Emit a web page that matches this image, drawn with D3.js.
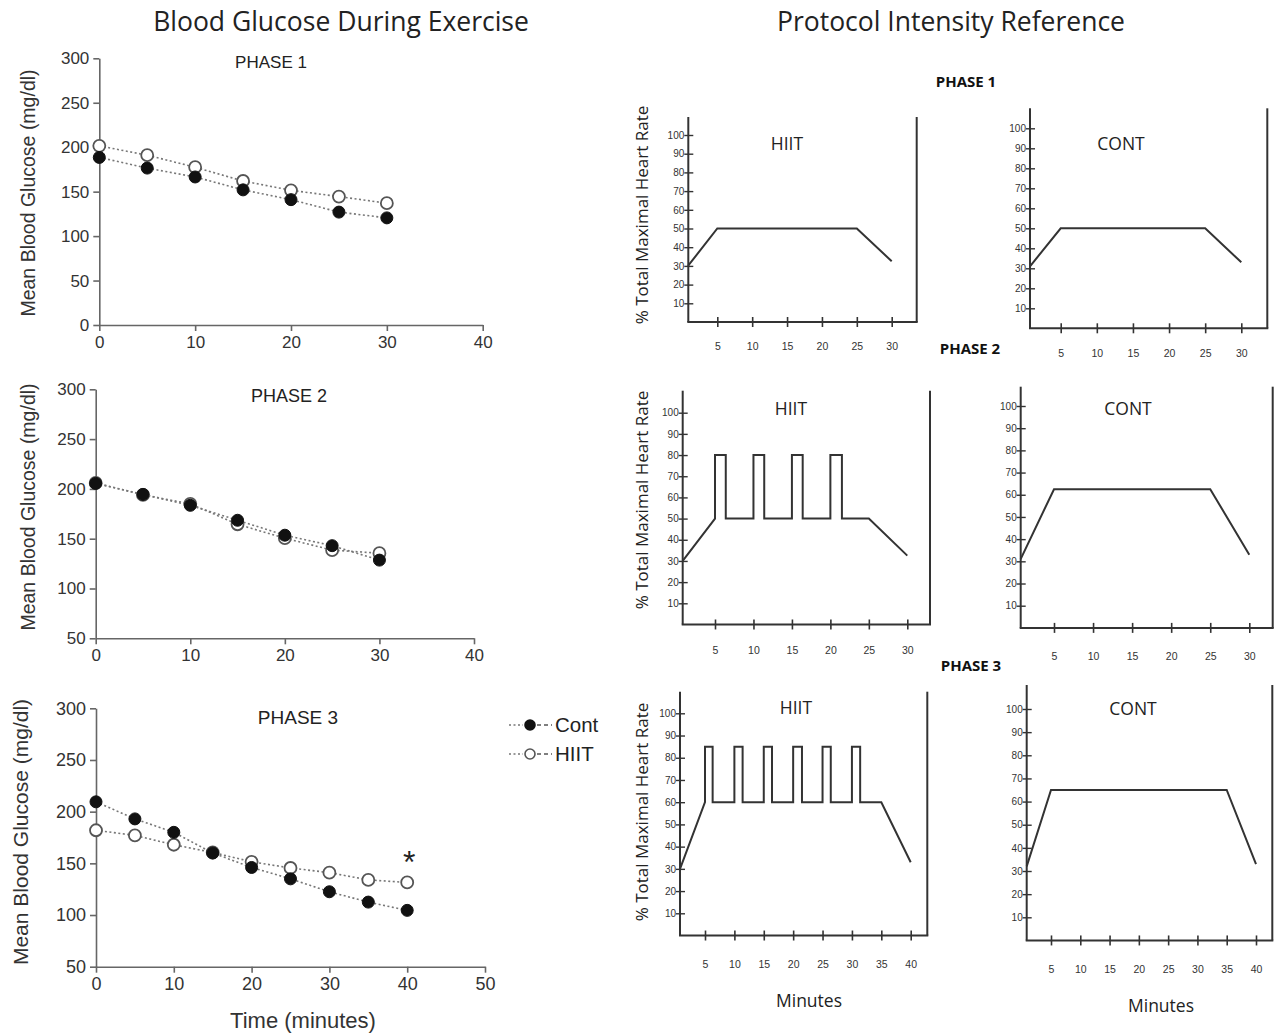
<!DOCTYPE html>
<html>
<head>
<meta charset="utf-8">
<script src="https://cdn.jsdelivr.net/npm/d3@7"></script>
<style>
html,body{margin:0;padding:0;background:#fff;}
svg{display:block;}
</style>
</head>
<body>
<svg id="chart" width="1281" height="1034"></svg>
<script>
// ---------------- DATA ----------------
const glucoseTime12 = [0, 5, 10, 15, 20, 25, 30];
const glucoseTime3 = [0, 5, 10, 15, 20, 25, 30, 35, 40];
const contPhase1 = [188.5, 176.5, 166.5, 152, 141, 127, 120.5];
const hiitPhase1 = [201.5, 191, 177.5, 162, 151.5, 144.5, 137];
const contPhase2 = [205.5, 194.5, 183.5, 168.5, 153.5, 143, 128.5];
const hiitPhase2 = [206, 194, 185, 164.5, 150.5, 138.5, 135.5];
const contPhase3 = [209.5, 193, 180, 160, 146, 135, 122.5, 112.5, 104.5];
const hiitPhase3 = [182, 177, 168, 160.5, 151.5, 145.5, 141, 134, 131.5];

const glucoseTicksY1 = [0, 50, 100, 150, 200, 250, 300];
const glucoseTicksY23 = [50, 100, 150, 200, 250, 300];
const glucoseTicksX12 = [0, 10, 20, 30, 40];
const glucoseTicksX3 = [0, 10, 20, 30, 40, 50];
const seriesNames = ["Cont", "HIIT"];
const phaseNames = ["PHASE 1", "PHASE 2", "PHASE 3"];

// protocol intensity profiles: [minute, % of maximal heart rate]
const protoHiit1 = [[0.8, 30], [5, 50], [25, 50], [30, 32.5]];
const protoCont1 = [[0.75, 31], [5, 50], [25, 50], [30, 33]];
const protoHiit2 = [[0.8, 30], [5, 50], [5, 80], [6.4, 80], [6.4, 50], [10, 50], [10, 80], [11.4, 80], [11.4, 50],
  [15, 50], [15, 80], [16.4, 80], [16.4, 50], [20, 50], [20, 80], [21.5, 80], [21.5, 50], [25, 50], [30, 32.5]];
const protoCont2 = [[0.73, 31], [5, 62.5], [25, 62.5], [30, 33]];
const protoHiit3 = [[0.75, 30], [5, 60], [5, 85], [6.3, 85], [6.3, 60], [10, 60], [10, 85], [11.4, 85], [11.4, 60],
  [15, 60], [15, 85], [16.4, 85], [16.4, 60], [20, 60], [20, 85], [21.5, 85], [21.5, 60], [25, 60], [25, 85],
  [26.4, 85], [26.4, 60], [30, 60], [30, 85], [31.4, 85], [31.4, 60], [35, 60], [40, 33]];
const protoCont3 = [[0.85, 32], [5, 65], [35, 65], [40, 33]];
const protoTicksX12 = [5, 10, 15, 20, 25, 30];
const protoTicksX3 = [5, 10, 15, 20, 25, 30, 35, 40];
const protoTicksY = [10, 20, 30, 40, 50, 60, 70, 80, 90, 100];

// ---------------- DRAWING ----------------
const svg = d3.select("#chart");
const LEFT_FONT = "'Liberation Sans', Arial, sans-serif";
const RIGHT_FONT = "'Open Sans', 'Noto Sans', sans-serif";
const NARROW_FONT = "'Liberation Sans Narrow', 'Liberation Sans', sans-serif";

svg.append("text").attr("x", 341).attr("y", 31).attr("text-anchor", "middle")
  .style("font-family", RIGHT_FONT).style("font-size", "26.5px").attr("fill", "#222")
  .text("Blood Glucose During Exercise");
svg.append("text").attr("x", 951).attr("y", 31).attr("text-anchor", "middle")
  .style("font-family", RIGHT_FONT).style("font-size", "26.5px").attr("fill", "#222")
  .text("Protocol Intensity Reference");

const leftPanels = [
  { time: glucoseTime12, cont: contPhase1, hiit: hiitPhase1, xDom: [0, 40], xRange: [99.3, 482.7],
    yDom: [0, 300], yRange: [325, 58.3], yTicks: glucoseTicksY1, xTicks: glucoseTicksX12,
    title: phaseNames[0], titleX: 271, titleY: 68, titleSize: 17, tickSize: 17,
    ylabX: 28, ylabY: 193, ylabSize: 19.5 },
  { time: glucoseTime12, cont: contPhase2, hiit: hiitPhase2, xDom: [0, 40], xRange: [95.7, 474],
    yDom: [50, 300], yRange: [638.3, 389.3], yTicks: glucoseTicksY23, xTicks: glucoseTicksX12,
    title: phaseNames[1], titleX: 289, titleY: 402, titleSize: 18, tickSize: 17,
    ylabX: 28, ylabY: 507, ylabSize: 19.5 },
  { time: glucoseTime3, cont: contPhase3, hiit: hiitPhase3, xDom: [0, 50], xRange: [96, 485],
    yDom: [50, 300], yRange: [966.7, 708.3], yTicks: glucoseTicksY23, xTicks: glucoseTicksX3,
    title: phaseNames[2], titleX: 298, titleY: 724, titleSize: 19, tickSize: 18,
    ylabX: 21, ylabY: 832, ylabSize: 21 }
];

leftPanels.forEach((p, i) => {
  const x = d3.scaleLinear().domain(p.xDom).range(p.xRange);
  const y = d3.scaleLinear().domain(p.yDom).range(p.yRange);
  const g = svg.append("g");

  const ax = g.append("g").attr("transform", `translate(0,${p.yRange[0]})`)
    .call(d3.axisBottom(x).tickValues(p.xTicks).tickSize(6).tickSizeOuter(0).tickPadding(5).tickFormat(d3.format("d")));
  const ay = g.append("g").attr("transform", `translate(${p.xRange[0]},0)`)
    .call(d3.axisLeft(y).tickValues(p.yTicks).tickSize(6).tickSizeOuter(0).tickPadding(4).tickFormat(d3.format("d")));
  [ax, ay].forEach(a => {
    a.selectAll("path,line").attr("stroke", "#666").attr("stroke-width", 1.6);
    a.selectAll("text").style("font-family", LEFT_FONT).style("font-size", p.tickSize + "px").attr("fill", "#333");
  });

  g.append("text").attr("x", p.titleX).attr("y", p.titleY).attr("text-anchor", "middle")
    .style("font-family", LEFT_FONT).style("font-size", p.titleSize + "px").attr("fill", "#222").text(p.title);
  g.append("text").attr("transform", `translate(${p.ylabX},${p.ylabY}) rotate(-90)`)
    .attr("text-anchor", "middle").attr("dy", "0.35em")
    .style("font-family", LEFT_FONT).style("font-size", p.ylabSize + "px").attr("fill", "#333")
    .text("Mean Blood Glucose (mg/dl)");

  const line = d3.line().x((d, k) => x(p.time[k])).y(d => y(d));
  [["hiit", false], ["cont", true]].forEach(([key, filled]) => {
    g.append("path").datum(p[key]).attr("d", line).attr("fill", "none")
      .attr("stroke", "#777").attr("stroke-width", 1.6).attr("stroke-dasharray", "2,2.5");
    g.selectAll(null).data(p[key]).join("circle")
      .attr("cx", (d, k) => x(p.time[k])).attr("cy", d => y(d)).attr("r", 6)
      .attr("fill", filled ? "#111" : "#fff").attr("stroke", filled ? "#111" : "#555")
      .attr("stroke-width", filled ? 1 : 1.8);
  });

  if (i === 2) {
    g.append("text").attr("x", x(40) + 2).attr("y", y(155) + 15).attr("text-anchor", "middle")
      .style("font-family", LEFT_FONT).style("font-size", "32px").attr("fill", "#222").text("*");
    g.append("text").attr("x", 303).attr("y", 1028).attr("text-anchor", "middle")
      .style("font-family", LEFT_FONT).style("font-size", "22px").attr("fill", "#333").text("Time (minutes)");
  }
});

// legend
const legend = svg.append("g");
seriesNames.forEach((name, i) => {
  const ly = 725 + i * 29;
  legend.append("line").attr("x1", 509).attr("x2", 523).attr("y1", ly).attr("y2", ly)
    .attr("stroke", "#777").attr("stroke-width", 1.6).attr("stroke-dasharray", "2,2.5");
  legend.append("line").attr("x1", 537).attr("x2", 552).attr("y1", ly).attr("y2", ly)
    .attr("stroke", "#555").attr("stroke-width", 1.6).attr("stroke-dasharray", "4,3");
  legend.append("circle").attr("cx", 530).attr("cy", ly).attr("r", 5)
    .attr("fill", i === 0 ? "#111" : "#fff").attr("stroke", i === 0 ? "#111" : "#555").attr("stroke-width", 1.6);
  legend.append("text").attr("x", 555).attr("y", ly).attr("dy", "0.35em")
    .style("font-family", LEFT_FONT).style("font-size", "20.5px").attr("fill", "#222").text(name);
});

// right panels
const rightPanels = [
  { data: protoHiit1, label: "HIIT", xTicks: protoTicksX12, xPx: [717.3, 891.7], axisX: 688.3, rightX: 916.7,
    yPx: [303.3, 135], top: 117, labY: 346, labX: 787, labTop: 150, ylab: true, ylabY: 215 },
  { data: protoCont1, label: "CONT", xTicks: protoTicksX12, xPx: [1060.7, 1241.3], axisX: 1030, rightX: 1267.3,
    yPx: [308.3, 128.3], top: 108.3, labY: 353, labX: 1121, labTop: 150 },
  { data: protoHiit2, label: "HIIT", xTicks: protoTicksX12, xPx: [715, 907.3], axisX: 682.7, rightX: 930,
    yPx: [603.3, 412.7], top: 390.7, labY: 650, labX: 791, labTop: 415, ylab: true, ylabY: 500 },
  { data: protoCont2, label: "CONT", xTicks: protoTicksX12, xPx: [1054, 1249.3], axisX: 1020.7, rightX: 1272.7,
    yPx: [605.7, 406], top: 386.7, labY: 656, labX: 1128, labTop: 415 },
  { data: protoHiit3, label: "HIIT", xTicks: protoTicksX3, xPx: [705, 910.7], axisX: 680, rightX: 927.3,
    yPx: [913.3, 713.3], top: 691.7, labY: 964, labX: 796, labTop: 714, ylab: true, ylabY: 812, minutesX: 809 },
  { data: protoCont3, label: "CONT", xTicks: protoTicksX3, xPx: [1051, 1256], axisX: 1026.7, rightX: 1272.3,
    yPx: [917.3, 709], top: 685, labY: 969, labX: 1133, labTop: 715, minutesX: 1161 }
];

rightPanels.forEach(p => {
  const xt = p.xTicks;
  const x = d3.scaleLinear().domain([xt[0], xt[xt.length - 1]]).range(p.xPx);
  const y = d3.scaleLinear().domain([protoTicksY[0], protoTicksY[protoTicksY.length - 1]]).range(p.yPx);
  const bottom = y(0);
  const g = svg.append("g");

  // frame lines
  g.append("line").attr("x1", p.axisX).attr("x2", p.axisX).attr("y1", p.top).attr("y2", bottom)
    .attr("stroke", "#333").attr("stroke-width", 2);
  g.append("line").attr("x1", p.rightX).attr("x2", p.rightX).attr("y1", p.top).attr("y2", bottom)
    .attr("stroke", "#333").attr("stroke-width", 2);
  g.append("line").attr("x1", p.axisX - 1).attr("x2", p.rightX + 1).attr("y1", bottom).attr("y2", bottom)
    .attr("stroke", "#333").attr("stroke-width", 2);

  const ax = g.append("g").attr("transform", `translate(0,${bottom})`)
    .call(d3.axisBottom(x).tickValues(xt).tickSize(5).tickFormat(d3.format("d")));
  ax.select(".domain").remove();
  ax.selectAll("line").attr("y1", -5).attr("y2", 5).attr("stroke", "#333").attr("stroke-width", 1.6);
  ax.selectAll("text").attr("y", p.labY - bottom - 3.5)
    .style("font-family", NARROW_FONT).style("font-size", "10.5px").attr("fill", "#333");

  const ay = g.append("g").attr("transform", `translate(${p.axisX},0)`)
    .call(d3.axisLeft(y).tickValues(protoTicksY).tickSize(4).tickFormat(d3.format("d")));
  ay.select(".domain").remove();
  ay.selectAll("line").attr("x1", -4).attr("x2", 5).attr("stroke", "#333").attr("stroke-width", 1.4);
  ay.selectAll("text").attr("x", -4)
    .style("font-family", NARROW_FONT).style("font-size", "10px").attr("fill", "#333");

  g.append("path").datum(p.data)
    .attr("d", d3.line().x(d => x(d[0])).y(d => y(d[1])))
    .attr("fill", "none").attr("stroke", "#333").attr("stroke-width", 2).attr("stroke-linejoin", "miter");

  g.append("text").attr("x", p.labX).attr("y", p.labTop).attr("text-anchor", "middle")
    .style("font-family", RIGHT_FONT).style("font-size", "17.5px").attr("fill", "#222").text(p.label);

  if (p.ylab) {
    g.append("text").attr("transform", `translate(642,${p.ylabY}) rotate(-90)`)
      .attr("text-anchor", "middle").attr("dy", "0.35em")
      .style("font-family", RIGHT_FONT).style("font-size", "17px").attr("fill", "#222")
      .text("% Total Maximal Heart  Rate");
  }
  if (p.minutesX) {
    g.append("text").attr("x", p.minutesX).attr("y", p.labY + 37).attr("text-anchor", "middle")
      .attr("dy", "0.35em")
      .style("font-family", RIGHT_FONT).style("font-size", "17.5px").attr("fill", "#222").text("Minutes");
  }
});

// phase labels on the right
[[966, 82], [970, 349], [971, 666]].forEach((pos, i) => {
  svg.append("text").attr("x", pos[0]).attr("y", pos[1]).attr("dy", "0.35em").attr("text-anchor", "middle")
    .style("font-family", RIGHT_FONT).style("font-size", "15px").style("font-weight", "bold")
    .attr("fill", "#111").text(phaseNames[i]);
});
</script>
</body>
</html>
